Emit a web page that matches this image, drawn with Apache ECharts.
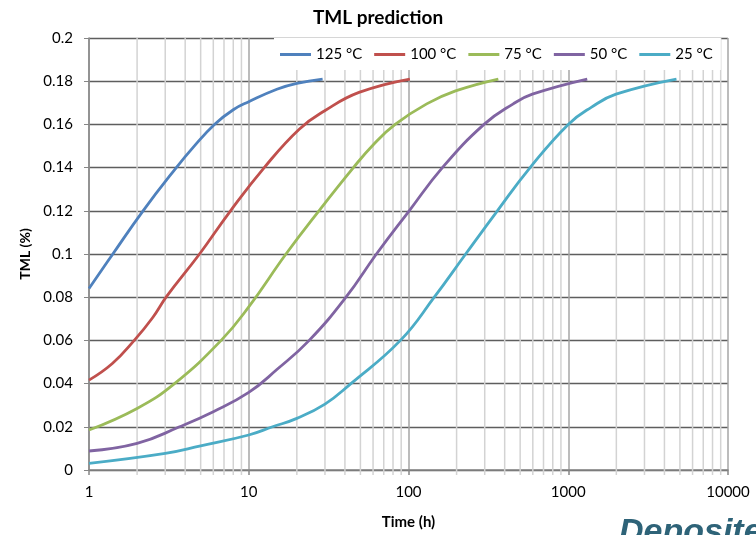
<!DOCTYPE html>
<html>
<head>
<meta charset="utf-8">
<title>TML prediction</title>
<script src="https://cdn.jsdelivr.net/npm/echarts@6/dist/echarts.min.js"></script>
<style>
html, body { margin: 0; padding: 0; background: #fff; }
#chart { width: 756px; height: 535px; }
</style>
</head>
<body>
<div id="chart"></div>
<script type="text/javascript">
// values: [time (h), TML (%)]
var names = ['125 °C', '100 °C', '75 °C', '50 °C', '25 °C'];
var colors = ['#4F81BD', '#C0504D', '#9BBB59', '#8064A2', '#4BACC6'];

var tml125 = [[1, 0.084], [1.41, 0.10], [2.18, 0.12], [3.52, 0.14], [4.5, 0.1495], [6.1, 0.16], [8, 0.1668], [10, 0.1705], [15, 0.1763], [20, 0.179], [29, 0.181]];
var tml100 = [[1, 0.0416], [1.4, 0.0493], [1.92, 0.06], [2.5, 0.0705], [3.07, 0.0805], [4.92, 0.10], [7.69, 0.12], [12.5, 0.14], [20.7, 0.1578], [29.9, 0.1663], [49, 0.1748], [102, 0.181]];
var tml75 = [[1, 0.0185], [2, 0.0285], [3.43, 0.04], [6.72, 0.06], [10, 0.0755], [17.1, 0.10], [27.5, 0.12], [45.2, 0.14], [60, 0.1505], [82.5, 0.16], [130, 0.1695], [197, 0.1755], [365, 0.181]];
var tml50 = [[1, 0.0088], [2, 0.0123], [3.69, 0.02], [6, 0.027], [10, 0.0359], [15, 0.0465], [23.9, 0.06], [40.6, 0.08], [63, 0.10], [101, 0.12], [163, 0.14], [297, 0.16], [450, 0.1694], [596, 0.174], [1315, 0.181]];
var tml25 = [[1, 0.0031], [3, 0.0077], [5, 0.0112], [10, 0.0162], [14.1, 0.02], [20, 0.0239], [30, 0.0305], [43.6, 0.04], [89, 0.06], [145, 0.08], [228, 0.10], [360, 0.12], [577, 0.14], [1000, 0.16], [1400, 0.168], [1990, 0.174], [4758, 0.181]];

// minor grid lines of the log axis
var minorTimes = [2, 3, 4, 5, 6, 7, 8, 9,
    20, 30, 40, 50, 60, 70, 80, 90,
    200, 300, 400, 500, 600, 700, 800, 900,
    2000, 3000, 4000, 5000, 6000, 7000, 8000, 9000];

var allData = [tml125, tml100, tml75, tml50, tml25];
var fontName = 'Lato';

var chart = echarts.init(document.getElementById('chart'));

var series = [{
    name: 'minor',
    type: 'custom',
    silent: true,
    z: 1,
    clip: false,
    data: minorTimes.map(function (t) { return [t, 0]; }),
    renderItem: function (params, api) {
        var p0 = api.coord([api.value(0), 0]);
        var p1 = api.coord([api.value(0), 0.2]);
        return {
            type: 'line',
            shape: { x1: p0[0], y1: p0[1] + 5, x2: p1[0], y2: p1[1] },
            style: { stroke: '#d3d3d3', lineWidth: 1.5 }
        };
    }
}];

for (var i = 0; i < names.length; i++) {
    series.push({
        name: names[i],
        type: 'line',
        data: allData[i],
        smooth: 0.45,
        showSymbol: false,
        z: 3,
        lineStyle: { color: colors[i], width: 2.8 },
        itemStyle: { color: colors[i] }
    });
}

var option = {
    animation: false,
    textStyle: { fontFamily: fontName },
    title: {
        text: 'TML prediction',
        left: 'center',
        top: 3,
        textStyle: { fontFamily: fontName, fontSize: 19, fontWeight: 'bold', color: '#000' }
    },
    legend: {
        data: names,
        left: 274,
        top: 38,
        padding: [9, 8, 8, 6],
        backgroundColor: '#fff',
        itemWidth: 31,
        itemHeight: 3,
        itemGap: 12,
        icon: 'rect',
        textStyle: { fontFamily: fontName, fontSize: 15, color: '#000' }
    },
    grid: { left: 89, right: 28, top: 38, bottom: 63 },
    xAxis: {
        type: 'log',
        logBase: 10,
        min: 1,
        max: 10000,
        name: 'Time (h)',
        nameLocation: 'middle',
        nameGap: 45,
        nameTextStyle: { fontFamily: fontName, fontSize: 15, fontWeight: 'bold', color: '#000' },
        axisLine: { lineStyle: { color: '#868686', width: 1.5 } },
        axisTick: { show: true, length: 5, lineStyle: { color: '#868686', width: 1.5 } },
        axisLabel: {
            margin: 15,
            fontFamily: fontName,
            fontSize: 15,
            color: '#000',
            formatter: function (v) { return String(v); }
        },
        splitLine: { show: true, lineStyle: { color: '#a6a6a6', width: 1.5 } }
    },
    yAxis: {
        type: 'value',
        min: 0,
        max: 0.2,
        interval: 0.02,
        name: 'TML (%)',
        nameLocation: 'middle',
        nameGap: 55,
        nameTextStyle: { fontFamily: fontName, fontSize: 14, fontWeight: 'bold', color: '#000' },
        axisLine: { show: true, lineStyle: { color: '#868686', width: 1.5 } },
        axisTick: { show: true, length: 5, lineStyle: { color: '#868686' } },
        axisLabel: {
            margin: 16,
            fontFamily: fontName,
            fontSize: 15,
            color: '#000',
            formatter: function (v) { return String(Math.round(v * 100) / 100); }
        },
        splitLine: { show: true, lineStyle: { color: '#5e5e5e', width: 1.3 } }
    },
    graphic: [{
        type: 'text',
        left: 619,
        top: 516,
        silent: true,
        style: {
            text: 'Deposited',
            font: 'italic bold 34px "Liberation Sans"',
            fill: '#2e6378'
        }
    }],
    series: series
};

chart.setOption(option);
</script>
</body>
</html>
